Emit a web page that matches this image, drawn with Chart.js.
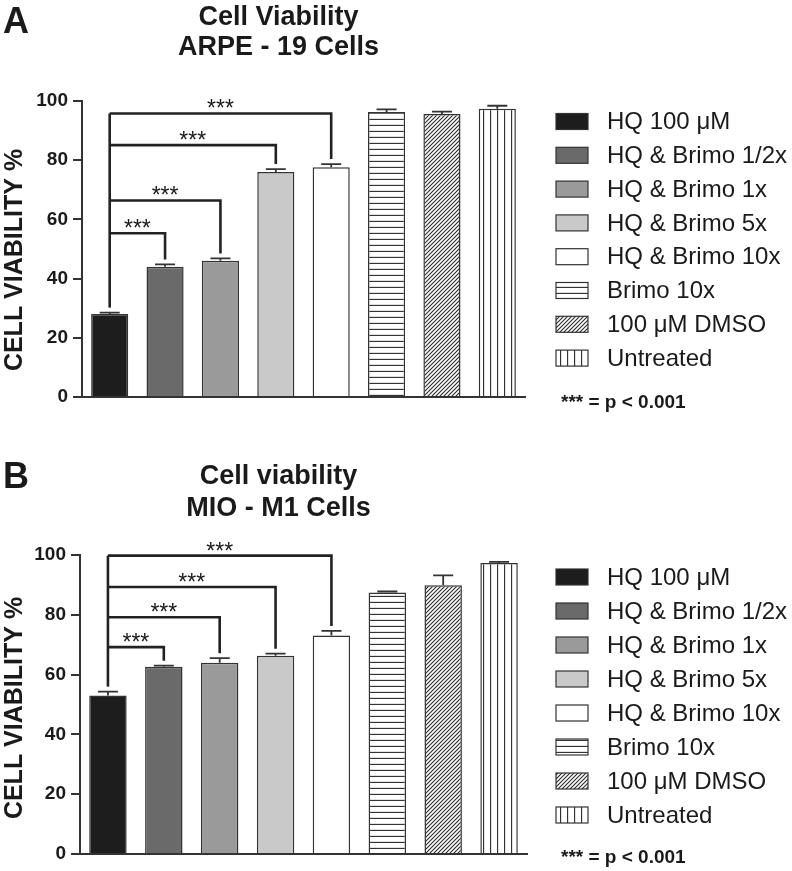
<!DOCTYPE html>
<html>
<head>
<meta charset="utf-8">
<script src="https://cdn.jsdelivr.net/npm/chart.js@4.4.0/dist/chart.umd.min.js"></script>
<style>
  html, body { margin: 0; padding: 0; background: #fff; }
  .panel { position: relative; width: 792px; }
  #panelA { height: 435px; }
  #panelB { height: 436px; }
</style>
</head>
<body>
<div class="panel" id="panelA"><canvas id="chartA"></canvas></div>
<div class="panel" id="panelB"><canvas id="chartB"></canvas></div>
<script>
// treatment groups (same order in both panels)
const groups = ['HQ 100 μM', 'HQ & Brimo 1/2x', 'HQ & Brimo 1x', 'HQ & Brimo 5x',
                'HQ & Brimo 10x', 'Brimo 10x', '100 μM DMSO', 'Untreated'];

// panel A - ARPE-19 cells
const arpeMeans = [28, 44, 46, 76, 77.6, 96.3, 95.6, 97.4];
const arpeErrors = [0.5, 0.8, 0.8, 1.0, 1.1, 0.9, 0.8, 1.0];
const arpeBracketLevels = [55.3, 66.4, 85.1, 95.8];

// panel B - MIO-M1 cells
const mioMeans = [53, 62.6, 64, 66.3, 73.1, 87.5, 89.9, 97.3];
const mioErrors = [1.3, 0.4, 1.5, 0.7, 1.5, 0.3, 3.3, 0.4];
const mioBracketLevels = [69.2, 79.2, 89.3, 99.8];

// groups compared against HQ 100 uM (index 0), all *** p < 0.001
const comparedGroups = [1, 2, 3, 4];
const yTicks = [0, 20, 40, 60, 80, 100];

const FONT = "'Liberation Sans', Arial, Helvetica, sans-serif";
const INK = '#1a1a1a';
const EDGE = '#333333';

Chart.defaults.font.family = FONT;
Chart.defaults.color = INK;

function makePattern(kind) {
    const c = document.createElement('canvas');
    const g = c.getContext('2d');
    if (kind === 'hline') {
        c.width = 8; c.height = 6;
        g.fillStyle = '#fff'; g.fillRect(0, 0, 8, 6);
        g.strokeStyle = EDGE; g.lineWidth = 1.3;
        g.beginPath(); g.moveTo(0, 5.5); g.lineTo(8, 5.5); g.stroke();
    } else if (kind === 'vline') {
        c.width = 7; c.height = 8;
        g.fillStyle = '#fff'; g.fillRect(0, 0, 7, 8);
        g.strokeStyle = EDGE; g.lineWidth = 1.3;
        g.beginPath(); g.moveTo(0.5, 0); g.lineTo(0.5, 8); g.stroke();
    } else {
        c.width = 4; c.height = 4;
        g.fillStyle = '#fff'; g.fillRect(0, 0, 4, 4);
        g.strokeStyle = '#2a2a2a'; g.lineWidth = 1.1;
        g.beginPath();
        g.moveTo(0, 4); g.lineTo(4, 0);
        g.moveTo(-1, 1); g.lineTo(1, -1);
        g.moveTo(3, 5); g.lineTo(5, 3);
        g.stroke();
    }
    return g.createPattern(c, 'repeat');
}

const fills = ['#1d1d1d', '#6a6a6a', '#9a9a9a', '#c9c9c9', '#ffffff',
               makePattern('hline'), makePattern('diag'), makePattern('vline')];

const decorPlugin = {
    id: 'panelDecor',
    afterDatasetsDraw(chart, args, opts) {
        const ctx = chart.ctx;
        const y = chart.scales.y;
        const bars = chart.getDatasetMeta(0).data;
        const means = opts.means, errs = opts.errors;
        const capTop = i => y.getPixelForValue(means[i] + errs[i]);

        // error bars (upward only)
        ctx.save();
        ctx.strokeStyle = EDGE;
        ctx.lineWidth = 1.8;
        ctx.beginPath();
        bars.forEach((bar, i) => {
            const t = capTop(i);
            ctx.moveTo(bar.x, bar.y);
            ctx.lineTo(bar.x, t);
            ctx.moveTo(bar.x - 10, t);
            ctx.lineTo(bar.x + 10, t);
        });
        ctx.stroke();

        // significance brackets
        const x0 = bars[0].x;
        ctx.strokeStyle = '#222';
        ctx.lineWidth = 2.6;
        ctx.lineJoin = 'miter';
        ctx.beginPath();
        ctx.moveTo(x0, capTop(0) - 5);
        ctx.lineTo(x0, y.getPixelForValue(Math.max(...opts.levels)));
        ctx.stroke();
        ctx.fillStyle = INK;
        ctx.font = '23px ' + FONT;
        ctx.textAlign = 'center';
        ctx.textBaseline = 'alphabetic';
        comparedGroups.forEach((idx, k) => {
            const ly = y.getPixelForValue(opts.levels[k]);
            const xk = bars[idx].x;
            ctx.beginPath();
            ctx.moveTo(x0, ly);
            ctx.lineTo(xk, ly);
            ctx.lineTo(xk, capTop(idx) - 5);
            ctx.stroke();
            ctx.fillText('***', (x0 + xk) / 2, ly + 3);
        });
        ctx.restore();
    },
    afterDraw(chart, args, opts) {
        const ctx = chart.ctx;
        ctx.save();
        ctx.fillStyle = INK;

        // panel letter
        ctx.font = 'bold 36px ' + FONT;
        ctx.textAlign = 'left';
        ctx.textBaseline = 'alphabetic';
        ctx.fillText(opts.letter, 3, opts.letterY);

        // title
        ctx.font = 'bold 27px ' + FONT;
        ctx.textAlign = 'center';
        opts.title.forEach((line, i) => ctx.fillText(line, 278.5, opts.titleY[i]));

        // y axis label
        ctx.save();
        ctx.translate(22, opts.yLabelY);
        ctx.rotate(-Math.PI / 2);
        ctx.font = 'bold 25px ' + FONT;
        ctx.fillText('CELL VIABILITY %', 0, 0);
        ctx.restore();

        // legend
        ctx.textAlign = 'left';
        ctx.textBaseline = 'middle';
        ctx.font = '24px ' + FONT;
        groups.forEach((name, i) => {
            const cy = opts.legendY + i * opts.legendStep;
            ctx.fillStyle = fills[i];
            ctx.fillRect(556, cy - 8, 32, 16);
            ctx.strokeStyle = EDGE;
            ctx.lineWidth = 1.2;
            ctx.strokeRect(556, cy - 8, 32, 16);
            ctx.fillStyle = INK;
            ctx.fillText(name, 607, cy + 1);
        });

        ctx.textBaseline = 'alphabetic';
        ctx.font = 'bold 19px ' + FONT;
        ctx.fillText('*** = p < 0.001', 561, opts.noteY);
        ctx.restore();
    }
};

function buildChart(canvasId, cfg) {
    return new Chart(document.getElementById(canvasId), {
        type: 'bar',
        data: {
            labels: groups,
            datasets: [{
                data: cfg.means,
                backgroundColor: fills,
                borderColor: EDGE,
                borderWidth: 1.5,
                categoryPercentage: 1,
                barPercentage: 0.67
            }]
        },
        options: {
            responsive: true,
            maintainAspectRatio: false,
            animation: false,
            layout: {
                padding: { top: cfg.padTop, bottom: cfg.padBottom, right: cfg.padRight, left: 0 }
            },
            plugins: {
                legend: { display: false },
                tooltip: { enabled: false },
                panelDecor: cfg
            },
            scales: {
                x: {
                    grid: { display: false, drawTicks: false },
                    ticks: { display: false },
                    border: { display: true, color: EDGE, width: 2 }
                },
                y: {
                    min: yTicks[0],
                    max: yTicks[yTicks.length - 1],
                    afterBuildTicks(scale) { scale.ticks = yTicks.map(v => ({ value: v })); },
                    afterFit(scale) { scale.width = cfg.axisWidth; },
                    ticks: { padding: 5, color: INK, font: { size: 19, weight: 'bold' } },
                    grid: { drawOnChartArea: false, tickLength: 9, color: EDGE, lineWidth: 2 },
                    border: { color: EDGE, width: 2 }
                }
            }
        },
        plugins: [decorPlugin]
    });
}

buildChart('chartA', {
    means: arpeMeans, errors: arpeErrors, levels: arpeBracketLevels,
    letter: 'A', letterY: 33,
    title: ['Cell Viability', 'ARPE - 19 Cells'], titleY: [25, 55],
    yLabelY: 260, legendY: 121.5, legendStep: 33.8, noteY: 408,
    padTop: 101, padBottom: 38, padRight: 267, axisWidth: 82
});

buildChart('chartB', {
    means: mioMeans, errors: mioErrors, levels: mioBracketLevels,
    letter: 'B', letterY: 53,
    title: ['Cell viability', 'MIO - M1 Cells'], titleY: [49, 81],
    yLabelY: 273, legendY: 142, legendStep: 34, noteY: 428,
    padTop: 120, padBottom: 17, padRight: 265, axisWidth: 80
});
</script>
</body>
</html>
